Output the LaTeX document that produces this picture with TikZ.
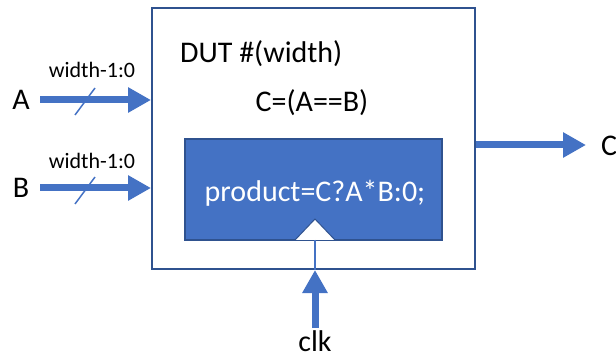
\documentclass[tikz,border=0pt]{standalone}
\usepackage{fontspec}
\setmainfont{Carlito}
\usetikzlibrary{arrows.meta,calc}
\definecolor{accent}{HTML}{4472C4}
\definecolor{edge}{HTML}{2F528F}
\tikzset{
  x=1pt, y=-1pt,
  bigtxt/.style={font=\fontsize{30}{36}\selectfont, inner sep=0pt},
  smalltxt/.style={font=\fontsize{22}{26}\selectfont, inner sep=0pt},
  bus/.style={accent, line width=7pt, -{Triangle[length=23pt,width=24pt]}},
  slash/.style={accent, line width=1.5pt},
  wire/.style={accent, line width=1.5pt},
}
\begin{document}
\begin{tikzpicture}
\useasboundingbox (0,0) rectangle (616,358);

% module outline and the inner register block
\node (dut) [draw=edge, line width=2pt, minimum width=323pt, minimum height=261pt, inner sep=0pt] at (313.5,138.5) {};
\node (core) [draw=edge, fill=accent, line width=1.5pt, minimum width=257pt, minimum height=101pt, inner sep=0pt] at (313.5,189.5) {};

% texts inside the module
\node (title) [bigtxt, anchor=base west] at (180,63) {DUT \#(width)};
\node (eq) [bigtxt, anchor=base] at (312,112) {C=(A==B)};
\node (prod) [bigtxt, anchor=base, text=white] at (315,202) {product=C?A*B:0;};

% clock input marker
\coordinate (ck) at (315,240);
\draw[edge, fill=white, line width=1pt] (295,240) -- (315,219) -- (335,240);
\draw[wire] (ck) -- (ck |- dut.south);

% inputs A and B
\node (A) [bigtxt, anchor=base] at (21,110) {A};
\node (B) [bigtxt, anchor=base] at (21,198) {B};
\coordinate (a0) at (40,100);
\coordinate (b0) at (40,188);
\draw[bus] (a0) -- (a0 -| dut.west);
\draw[bus] (b0) -- (b0 -| dut.west);
\draw[slash] (75,115) -- (95,88);
\draw[slash] (75,204) -- (95,177);
\node (wa) [smalltxt, anchor=base] at (92,78) {width-1:0};
\node (wb) [smalltxt, anchor=base] at (92,169) {width-1:0};

% output C
\coordinate (c0) at (586,145);
\draw[bus] (c0 -| dut.east) -- (c0);
\node (C) [bigtxt, anchor=base west] at (601,156) {C};

% clock arrow
\coordinate (k0) at (315,328);
\draw[bus] (k0) -- (k0 |- dut.south);
\node (clk) [bigtxt, anchor=base] at (315,351) {clk};
\end{tikzpicture}
\end{document}
